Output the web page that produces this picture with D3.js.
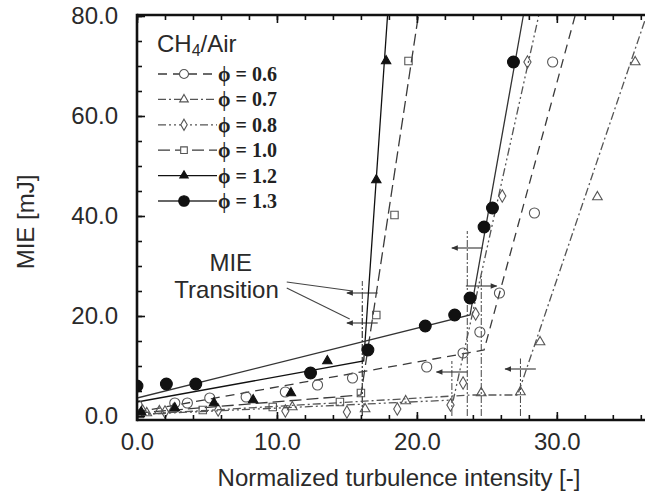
<!DOCTYPE html>
<html>
<head>
<meta charset="utf-8">
<script src="https://d3js.org/d3.v7.min.js"></script>
<title>MIE vs turbulence intensity</title>
<style>
body { margin: 0; padding: 0; background: #fff; }
svg { display: block; }
.tick text { font-family: "Liberation Sans", Arial, sans-serif; font-size: 24px; fill: #2a2a2a; }
.tick line { stroke: #111; stroke-width: 1.6; }
.title { font-family: "Liberation Sans", Arial, sans-serif; font-size: 24px; fill: #2a2a2a; }
.leg { font-family: "Liberation Serif", "Times New Roman", serif; font-size: 20px; font-weight: bold; fill: #222; }
</style>
</head>
<body>
<svg id="chart" width="645" height="497"></svg>
<script>

// equivalence ratios shown in the legend
var phis = ["0.6", "0.7", "0.8", "1.0", "1.2", "1.3"];

var pts06 = [[0,2.2],[2.7,2.6],[3.6,2.6],[5.2,3.6],[7.8,3.8],[10.6,4.8],[12.9,6.2],[15.4,7.6],[20.7,9.8],[23.3,12.6],[24.5,16.8],[25.9,24.6],[28.4,40.6],[29.7,70.8]];
var pts07 = [[0.7,0.6],[1.6,1.0],[2.6,1.4],[11.1,1.8],[16.3,1.4],[19.2,3.0],[24.6,4.6],[27.4,4.8],[28.8,14.8],[32.9,43.8],[35.6,70.8]];
var pts08 = [[0.4,1.0],[2.0,0.8],[5.8,1.2],[10.6,1.0],[15.0,0.8],[18.6,1.4],[22.4,2.2],[23.3,6.6],[24.2,20.4],[26.1,44.0],[27.9,70.8]];
var pts10 = [[0.2,0.4],[4.7,1.2],[9.7,1.8],[14.5,2.8],[16.0,4.6],[17.1,20.2],[18.4,40.2],[19.4,71.0]];
var pts12 = [[0.3,0.8],[2.7,1.6],[5.5,2.6],[8.3,3.2],[11.0,4.6],[13.6,11.0],[17.1,47.2],[17.8,71.0]];
var pts13 = [[0,6.0],[2.1,6.4],[4.2,6.4],[12.4,8.6],[16.5,13.2],[20.6,18.0],[22.7,20.2],[23.8,23.6],[24.8,37.8],[25.4,41.6],[26.9,70.8]];

// fitted bilinear lines
var fit06 = [[0,0.8],[24.8,13.2],[31.3,80]];
var fit07 = [[0,0.3],[23.8,4.2],[27.2,4.2],[36.4,80]];
var fit08 = [[0,0.3],[22.6,3.2],[28.7,80]];
var fit10 = [[0,0.6],[16.0,4.2],[20.1,80]];
var fit12 = [[0,2.8],[16.2,11.0],[17.9,80]];
var fit13 = [[0,3.6],[23.8,20.2],[27.6,80]];

// transition markers: x, height of crosshair, arrow direction, height of vertical line
var transX = [16.1, 16.1, 23.6, 24.6, 22.5, 27.4];
var transY = [24.6, 18.6, 33.6, 26.0, 8.8, 9.4];
var transDir = [-1, -1, -1, 1, -1, -1];
var transTop = [27, 22, 37, 28, 11, 11.5];

var xMajor = [0, 10, 20, 30];
var yMajor = [0, 20, 40, 60, 80];

var svg = d3.select("#chart");

var x = d3.scaleLinear().domain([0, 36.3]).range([137, 645]);
var y = d3.scaleLinear().domain([0, 80]).range([416, 16]);

var series = [
  {pts: pts06, fit: fit06, sym: d3.symbolCircle, size: 80, fill: false, dash: "9,6", col: "#3a3a3a"},
  {pts: pts07, fit: fit07, sym: d3.symbolTriangle, size: 40, fill: false, dash: "8,3,2,3", col: "#555"},
  {pts: pts08, fit: fit08, sym: d3.symbolDiamond, size: 45, fill: false, dash: "8,3,2,3,2,3", col: "#555"},
  {pts: pts10, fit: fit10, sym: d3.symbolSquare, size: 55, fill: false, dash: "12,5", col: "#3a3a3a"},
  {pts: pts12, fit: fit12, sym: d3.symbolTriangle, size: 38, fill: true, dash: null, col: "#111"},
  {pts: pts13, fit: fit13, sym: d3.symbolCircle, size: 110, fill: true, dash: null, col: "#333"}
];

svg.append("defs").append("clipPath").attr("id", "plot")
  .append("rect").attr("x", x(0)).attr("y", y(80.2))
  .attr("width", 645 - x(0)).attr("height", y(-0.8) - y(80.2));

svg.select("defs").append("marker")
  .attr("id", "arr").attr("viewBox", "0 0 10 10").attr("refX", 9).attr("refY", 5)
  .attr("markerWidth", 7).attr("markerHeight", 6).attr("orient", "auto-start-reverse")
  .append("path").attr("d", "M0,1 L10,5 L0,9 Z").attr("fill", "#333");

var plot = svg.append("g").attr("clip-path", "url(#plot)");

var line = d3.line().x(function(d) { return x(d[0]); }).y(function(d) { return y(d[1]); });

// transition verticals + crosshairs
transX.forEach(function(tx, i) {
  plot.append("line")
    .attr("x1", x(tx)).attr("x2", x(tx)).attr("y1", y(0)).attr("y2", y(transTop[i]))
    .attr("stroke", "#444").attr("stroke-width", 1).attr("stroke-dasharray", "7,2,2,2");
  var a = tx - transDir[i] * 1.1, b = tx + transDir[i] * 1.1;
  plot.append("line")
    .attr("x1", x(a)).attr("x2", x(b)).attr("y1", y(transY[i])).attr("y2", y(transY[i]))
    .attr("stroke", "#333").attr("stroke-width", 1.1).attr("marker-end", "url(#arr)");
});

series.forEach(function(s) {
  plot.append("path").datum(s.fit)
    .attr("d", line).attr("fill", "none")
    .attr("stroke", s.col).attr("stroke-width", 1.3)
    .attr("stroke-dasharray", s.dash);
});

series.forEach(function(s) {
  plot.selectAll(null).data(s.pts).enter().append("path")
    .attr("transform", function(d) { return "translate(" + x(d[0]) + "," + y(d[1]) + ")"; })
    .attr("d", d3.symbol().type(s.sym).size(s.size))
    .attr("fill", s.fill ? "#111" : "none")
    .attr("stroke", s.fill ? "#111" : "#555").attr("stroke-width", 1.1);
});

// MIE transition callout
var calloutFrom = [[10.7, 26.8], [10.7, 25.6]];
var calloutTo = [[15.4, 25.0], [15.2, 19.4]];
calloutFrom.forEach(function(f, i) {
  svg.append("line")
    .attr("x1", x(f[0])).attr("y1", y(f[1]))
    .attr("x2", x(calloutTo[i][0])).attr("y2", y(calloutTo[i][1]))
    .attr("stroke", "#444").attr("stroke-width", 1.1);
});
svg.append("rect").attr("x", x(2.4)).attr("y", y(33)).attr("width", x(10.5) - x(2.4)).attr("height", y(22.5) - y(33)).attr("fill", "#fff");
svg.append("text").attr("class", "title").attr("text-anchor", "middle")
  .attr("x", x(6.7)).attr("y", y(29)).text("MIE");
svg.append("text").attr("class", "title").attr("text-anchor", "middle")
  .attr("x", x(6.4)).attr("y", y(23.6)).text("Transition");

// axes
function styleAx(g) {
  g.select(".domain").remove();
}
svg.append("g").attr("transform", "translate(0," + y(-0.8) + ")")
  .call(d3.axisBottom(x).tickValues(xMajor).tickSize(-8).tickPadding(13).tickFormat(d3.format(".1f")))
  .call(styleAx);
svg.append("g").attr("transform", "translate(0," + y(-0.8) + ")")
  .call(d3.axisBottom(x).tickValues(d3.range(0, 37, 2)).tickSize(-5).tickFormat(""))
  .call(styleAx);
svg.append("g").attr("transform", "translate(0," + y(80.2) + ")")
  .call(d3.axisTop(x).tickValues(xMajor).tickSize(-8).tickFormat(""))
  .call(styleAx);
svg.append("g").attr("transform", "translate(0," + y(80.2) + ")")
  .call(d3.axisTop(x).tickValues(d3.range(0, 37, 2)).tickSize(-5).tickFormat(""))
  .call(styleAx);
svg.append("g").attr("transform", "translate(" + x(0) + ",0)")
  .call(d3.axisLeft(y).tickValues(yMajor).tickSize(-8).tickPadding(19).tickFormat(d3.format(".1f")))
  .call(styleAx);
svg.append("g").attr("transform", "translate(" + x(0) + ",0)")
  .call(d3.axisLeft(y).tickValues(d3.range(0, 81, 5)).tickSize(-5).tickFormat(""))
  .call(styleAx);

// frame
svg.append("line").attr("x1", x(0)).attr("x2", 645).attr("y1", y(-0.8)).attr("y2", y(-0.8)).attr("stroke", "#111").attr("stroke-width", 2.6);
svg.append("line").attr("x1", x(0)).attr("x2", 645).attr("y1", y(80.2)).attr("y2", y(80.2)).attr("stroke", "#111").attr("stroke-width", 2.6);
svg.append("line").attr("x1", x(0)).attr("x2", x(0)).attr("y1", y(80.2) - 1.3).attr("y2", y(-0.8) + 1.3).attr("stroke", "#111").attr("stroke-width", 2.6);

svg.append("text").attr("class", "title").attr("text-anchor", "middle")
  .attr("x", 399).attr("y", 486).text("Normalized turbulence intensity [-]");
svg.append("text").attr("class", "title").attr("text-anchor", "middle")
  .attr("transform", "translate(34,222) rotate(-90)").text("MIE [mJ]");

// legend
var lg = svg.append("g").attr("transform", "translate(157,0)");
var ch = lg.append("text").attr("class", "title").attr("x", 0).attr("y", 52);
ch.append("tspan").text("CH");
ch.append("tspan").attr("font-size", "16px").attr("dy", 4).text("4");
ch.append("tspan").attr("dy", -4).text("/Air");

series.forEach(function(s, i) {
  var ly = 74 + i * 25.4;
  var g = lg.append("g").attr("transform", "translate(0," + ly + ")");
  g.append("line").attr("x1", 1).attr("x2", 60).attr("y1", 0).attr("y2", 0)
    .attr("stroke", s.col).attr("stroke-width", 1.3).attr("stroke-dasharray", s.dash);
  g.append("path").attr("transform", "translate(27,0)")
    .attr("d", d3.symbol().type(s.sym).size(s.size * 0.8))
    .attr("fill", s.fill ? "#111" : "#fff")
    .attr("stroke", s.fill ? "#111" : "#555").attr("stroke-width", 1.1);
  g.append("text").attr("class", "leg").attr("x", 61).attr("y", 7).text("\u03d5 = " + phis[i]);
});

</script>
</body>
</html>
